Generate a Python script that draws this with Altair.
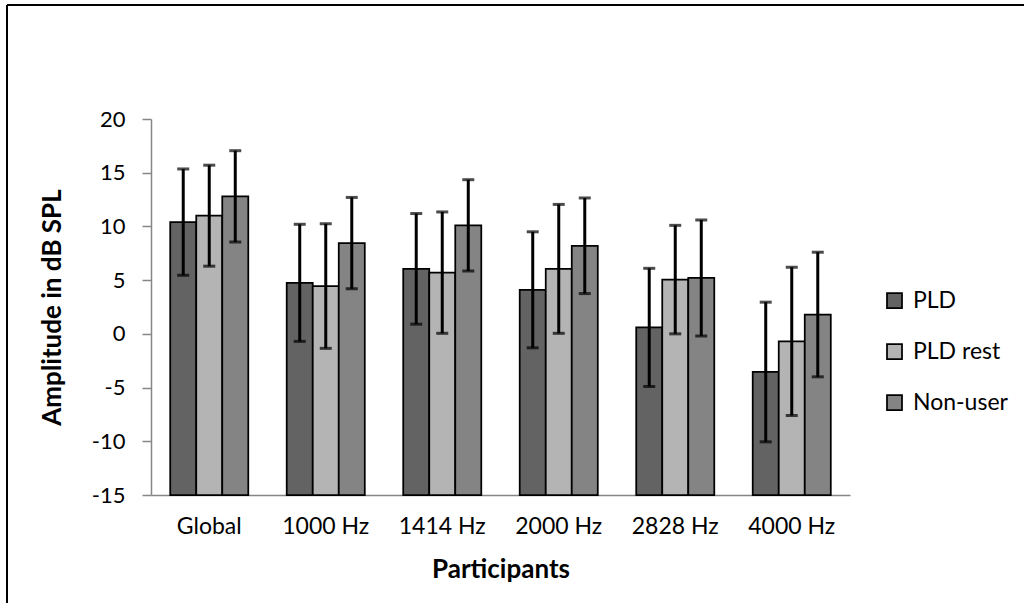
import altair as alt
import pandas as pd

categories = ["Global", "1000 Hz", "1414 Hz", "2000 Hz", "2828 Hz", "4000 Hz"]
groups = ["PLD", "PLD rest", "Non-user"]
colors = ["#636363", "#b4b4b4", "#848484"]

pld = [10.4, 4.75, 6.05, 4.1, 0.6, -3.55]
pld_err = [4.95, 5.45, 5.15, 5.4, 5.5, 6.5]
rest = [11.0, 4.45, 5.7, 6.05, 5.05, -0.7]
rest_err = [4.7, 5.8, 5.65, 6.0, 5.05, 6.9]
non = [12.8, 8.45, 10.1, 8.2, 5.2, 1.8]
non_err = [4.25, 4.25, 4.25, 4.45, 5.4, 5.8]

rows = []
for g, vals, errs in zip(groups, [pld, rest, non], [pld_err, rest_err, non_err]):
    for c, v, e in zip(categories, vals, errs):
        rows.append({"cat": c, "group": g, "value": v, "lo": v - e, "hi": v + e})
df = pd.DataFrame(rows)

FONT = "Lato"

x_enc = alt.X("cat:N", sort=categories,
              scale=alt.Scale(paddingInner=0.33, paddingOuter=0.165),
              axis=alt.Axis(title="Participants", labelAngle=0, ticks=False,
                            labelFontSize=23, labelPadding=20, titlePadding=18))
xo_enc = alt.XOffset("group:N", sort=groups,
                     scale=alt.Scale(paddingInner=0, paddingOuter=0))

base = alt.Chart(df)

bars = base.mark_bar(stroke="black", strokeWidth=1.75).encode(
    x=x_enc,
    xOffset=xo_enc,
    y=alt.Y("value:Q", scale=alt.Scale(domain=[-15, 20], zero=False),
            axis=alt.Axis(title="Amplitude in dB SPL", values=list(range(-15, 21, 5)),
                          labelExpr="'' + datum.value",
                          grid=False, tickSize=9, labelFontSize=22,
                          labelPadding=17, titlePadding=26)),
    y2=alt.datum(-15),
    color=alt.Color("group:N", sort=groups,
                    scale=alt.Scale(domain=groups, range=colors),
                    legend=alt.Legend(title=None, orient="none", legendX=732, legendY=170,
                                      symbolType="square", symbolSize=225,
                                      symbolStrokeColor="black", symbolStrokeWidth=1.75,
                                      labelFontSize=23, labelFont=FONT, labelColor="black",
                                      rowPadding=27, labelOffset=7)),
)

rules = base.mark_rule(color="black", strokeWidth=3).encode(
    x=alt.X("cat:N", sort=categories),
    xOffset=xo_enc,
    y="lo:Q",
    y2="hi:Q",
)

caps_lo = base.mark_tick(color="black", thickness=3, size=12).encode(
    x=alt.X("cat:N", sort=categories), xOffset=xo_enc, y="lo:Q")
caps_hi = base.mark_tick(color="black", thickness=3, size=12).encode(
    x=alt.X("cat:N", sort=categories), xOffset=xo_enc, y="hi:Q")

frame_top = alt.Chart(alt.Data(values=[{}])).mark_rule(
    color="black", strokeWidth=2, clip=False
).encode(x=alt.value(7 - 151), x2=alt.value(1030 - 151), y=alt.value(5 - 119))

frame_left = alt.Chart(alt.Data(values=[{}])).mark_rule(
    color="black", strokeWidth=2, clip=False
).encode(x=alt.value(7 - 151), y=alt.value(5 - 119), y2=alt.value(610 - 119))

chart = alt.layer(bars, rules, caps_lo, caps_hi, frame_top, frame_left).properties(
    width=699, height=376,
    background="white",
    autosize=alt.AutoSizeParams(type="none"),
    padding={"left": 151, "top": 119, "right": 1024 - 850, "bottom": 603 - 495},
).configure_view(stroke=None).configure_axis(
    labelFont=FONT, titleFont=FONT, titleFontSize=26,
    titleFontWeight="bold", labelColor="black", titleColor="black",
    domainColor="#868686", tickColor="#868686", domainWidth=1.5, tickWidth=1.5,
)

chart.save("out.html", embed_options={"renderer": "svg", "actions": False})
